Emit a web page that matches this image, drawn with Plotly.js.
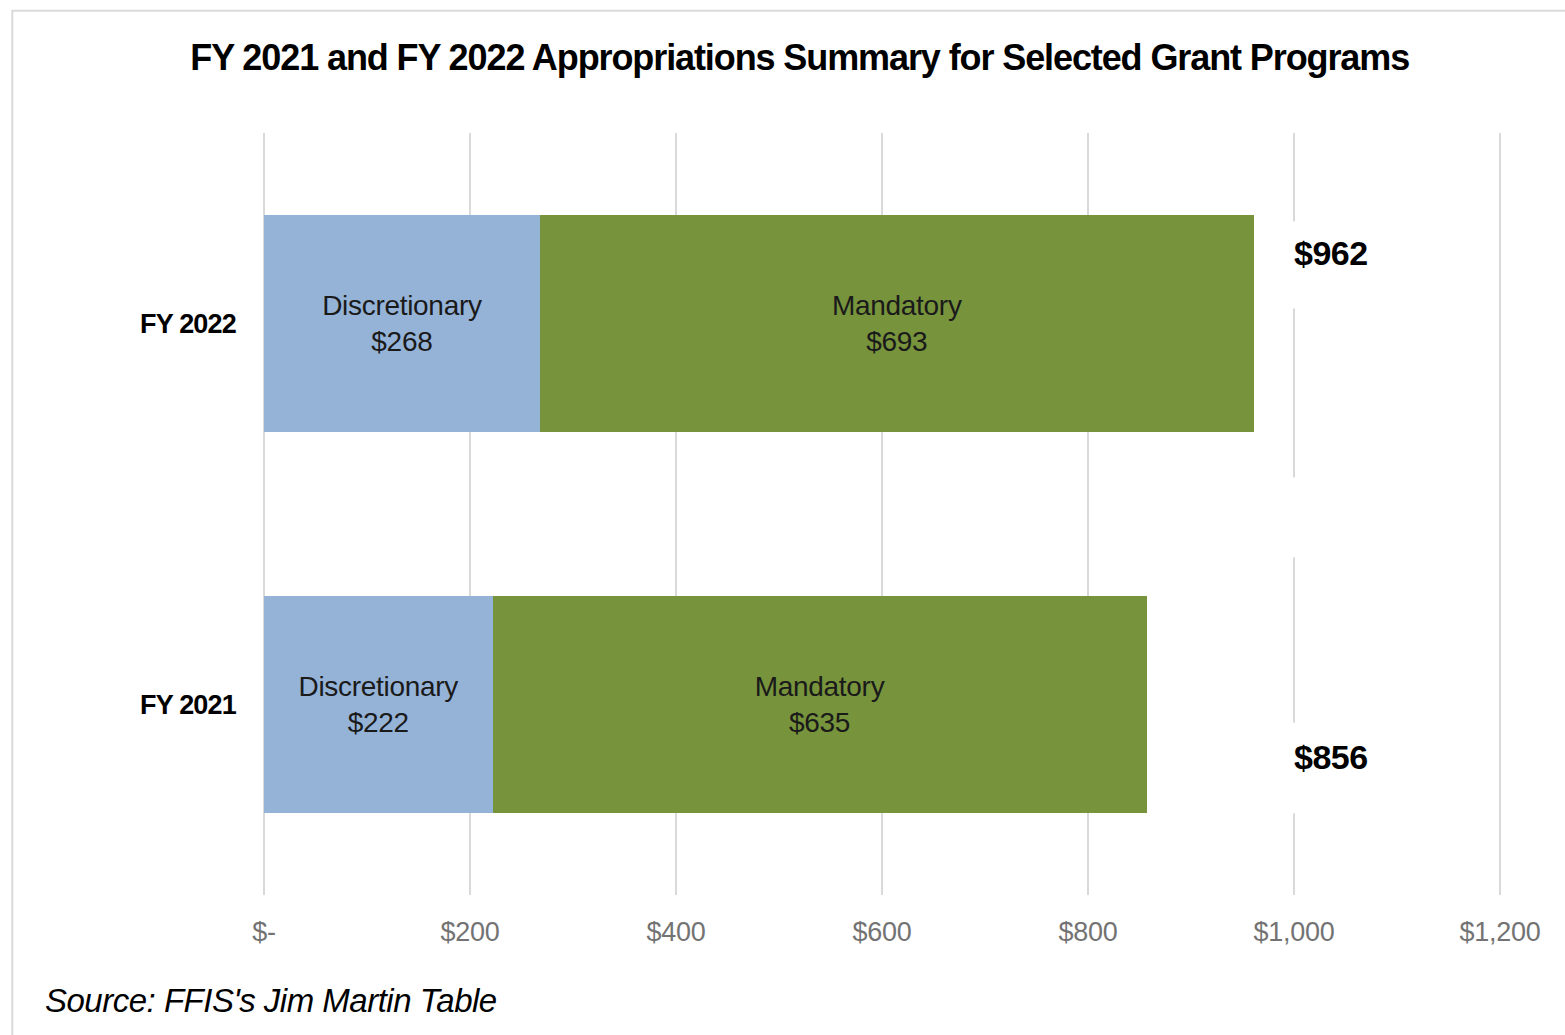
<!DOCTYPE html>
<html>
<head>
<meta charset="utf-8">
<script src="https://cdn.plot.ly/plotly-3.0.1.min.js"></script>
<style>
  html, body { margin: 0; padding: 0; background: #ffffff; }
  #chart { width: 1565px; height: 1035px; }
  .gtitle { letter-spacing: -1.1px; }
  .xtick text { letter-spacing: -0.3px; }
  .ytick text { letter-spacing: -0.8px; }
  .annotation-text { letter-spacing: -0.5px; }
  .bartext { letter-spacing: -0.3px; }
</style>
</head>
<body>
<div id="chart"></div>
<script>
// ---- data ----
const categories = ['FY 2021', 'FY 2022'];
const seriesNames = ['Discretionary', 'Mandatory'];
const discretionary = [222, 268];
const mandatory = [635, 693];
const totals = [856, 962];
const tickValues = [0, 200, 400, 600, 800, 1000, 1200];
const tickLabels = ['$-', '$200', '$400', '$600', '$800', '$1,000', '$1,200'];
const titleText = 'FY 2021 and FY 2022 Appropriations Summary for Selected Grant Programs';
const sourceText = "Source: FFIS's Jim Martin Table";

// ---- styles ----
const FONT = 'Liberation Sans, Arial, sans-serif';
const colors = ['#95b3d7', '#77933c'];
const totalLabelShift = [-52, 71];   // pixel offsets of the total labels
const totalLabelX = 1000;            // labels sit on the $1,000 gridline

const traces = [discretionary, mandatory].map((vals, i) => ({
  type: 'bar',
  orientation: 'h',
  name: seriesNames[i],
  y: categories,
  x: vals,
  width: 0.57,
  marker: { color: colors[i], line: { width: 0 } },
  texttemplate: seriesNames[i] + '<br>$%{x}',
  textposition: 'inside',
  insidetextanchor: 'middle',
  textangle: 0,
  textfont: { family: FONT, size: 28, color: '#1a1a1a' },
  hoverinfo: 'skip'
}));

const annotations = totals.map((t, i) => ({
  x: totalLabelX,
  y: categories[i],
  xref: 'x', yref: 'y',
  xanchor: 'left', yanchor: 'middle',
  xshift: -2,
  yshift: totalLabelShift[i],
  text: '$' + t,
  showarrow: false,
  font: { family: FONT, size: 34, color: '#000000', weight: 'bold' }
}));
annotations.push({
  x: -0.178, y: -0.138, xref: 'paper', yref: 'paper',
  xanchor: 'left', yanchor: 'middle',
  text: '<i>' + sourceText + '</i>',
  showarrow: false,
  font: { family: FONT, size: 33, color: '#000000' }
});

// white gaps where the data label boxes interrupt the $1,000 gridline
const gapDefs = [
  { cat: categories[1], y0: 15, y1: 102 },
  { cat: categories[1], y0: -234, y1: -154 },
  { cat: categories[0], y0: -109, y1: -18 }
];
const shapes = gapDefs.map(g => ({
  type: 'rect', layer: 'between',
  xref: 'x', yref: 'y',
  xsizemode: 'pixel', ysizemode: 'pixel',
  xanchor: totalLabelX, yanchor: g.cat,
  x0: -4, x1: 4, y0: g.y0, y1: g.y1,
  fillcolor: '#ffffff', line: { width: 0 }
}));
shapes.push({
  type: 'rect', layer: 'below',
  xref: 'paper', yref: 'paper',
  x0: -0.2025, x1: 1.2, y0: -0.4, y1: 1.1605,
  fillcolor: 'rgba(0,0,0,0)',
  line: { color: '#dadada', width: 2 }
});

const layout = {
  width: 1565, height: 1035,
  paper_bgcolor: '#ffffff', plot_bgcolor: '#ffffff',
  margin: { l: 263, r: 64, t: 133, b: 140, pad: 0 },
  barmode: 'stack',
  showlegend: false,
  title: {
    text: '<b>' + titleText + '</b>',
    font: { family: FONT, size: 36, color: '#000000' },
    xref: 'container', x: 0.511, xanchor: 'center',
    yref: 'container', y: 0.945, yanchor: 'middle'
  },
  xaxis: {
    range: [-1, 1201],
    tickvals: tickValues,
    ticktext: tickLabels,
    showgrid: true,
    gridcolor: '#d9d9d9',
    gridwidth: 2,
    zeroline: false,
    showline: false,
    ticks: '',
    ticklabelstandoff: 18,
    tickfont: { family: FONT, size: 27, color: '#737373' },
    fixedrange: true
  },
  yaxis: {
    type: 'category',
    categoryorder: 'array',
    categoryarray: categories,
    showgrid: false,
    zeroline: false,
    showline: false,
    ticks: '',
    ticklabelstandoff: 26,
    tickfont: { family: FONT, size: 27, color: '#000000', weight: 'bold' },
    fixedrange: true
  },
  annotations: annotations,
  shapes: shapes
};

Plotly.newPlot('chart', traces, layout, { displayModeBar: false, staticPlot: true });
</script>
</body>
</html>
